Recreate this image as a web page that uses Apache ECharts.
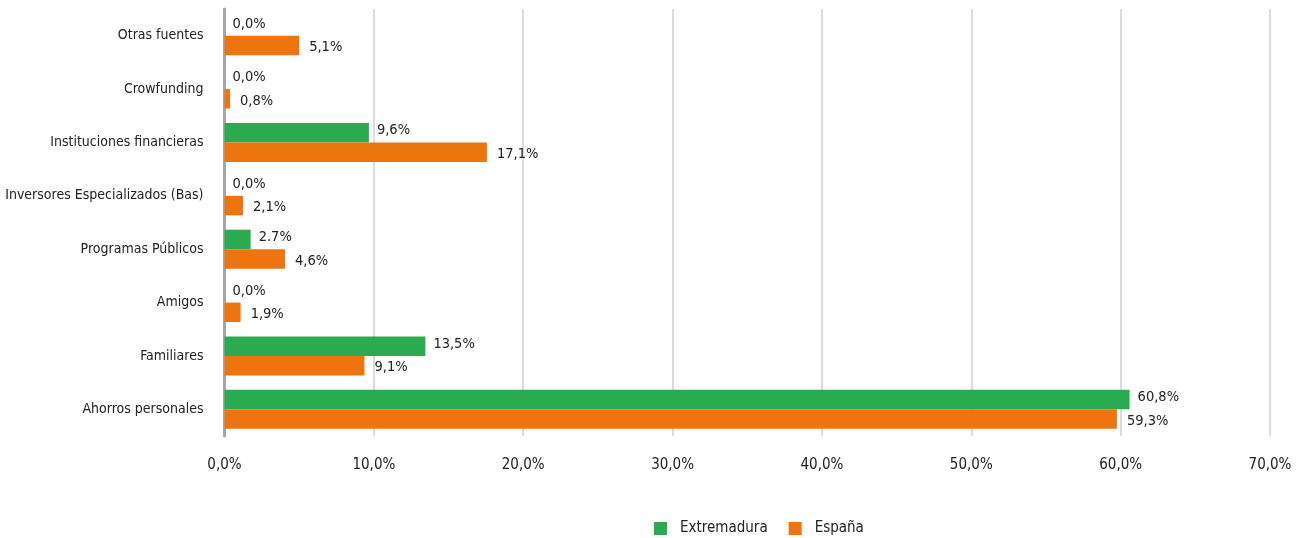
<!DOCTYPE html>
<html><head><meta charset="utf-8">
<script src="https://cdn.jsdelivr.net/npm/echarts@6/dist/echarts.min.js"></script>
<style>html,body{margin:0;padding:0;background:#fff}#c{width:1309px;height:538px}</style>
</head><body><div id="c"></div>
<script>
const categories = ['Ahorros personales','Familiares','Amigos','Programas Públicos','Inversores Especializados (Bas)','Instituciones financieras','Crowfunding','Otras fuentes'];
const extremaduraValues = [60.6, 13.45, 0, 1.75, 0, 9.67, 0, 0];
const extremaduraLabels = ['60,8%','13,5%','0,0%','2.7%','0,0%','9,6%','0,0%','0,0%'];
const espanaValues = [59.75, 9.37, 1.08, 4.05, 1.24, 17.57, 0.37, 5.0];
const espanaLabels = ['59,3%','9,1%','1,9%','4,6%','2,1%','17,1%','0,8%','5,1%'];
const xTicks = ['0,0%','10,0%','20,0%','30,0%','40,0%','50,0%','60,0%','70,0%'];

const FONT = "'DejaVu Sans Condensed','Liberation Sans Narrow',sans-serif";
const chart = echarts.init(document.getElementById('c'));
chart.setOption({
  animation: false,
  textStyle: { fontFamily: FONT },
  grid: { left: 224.5, right: 39, top: 9, bottom: 102, containLabel: false, outerBoundsMode: 'none' },
  legend: {
    top: 516, left: 649, itemWidth: 13, itemHeight: 13, itemGap: 21,
    icon: 'rect',
    textStyle: { fontFamily: FONT, fontSize: 15, color: '#222', padding: [0, 0, 0, 8] },
    data: ['Extremadura', 'España']
  },
  xAxis: {
    type: 'value', min: 0, max: 70, interval: 10,
    axisLine: { show: false }, axisTick: { show: false },
    splitLine: { lineStyle: { color: '#d0d0d0', width: 1.5 } },
    axisLabel: { margin: 22, fontSize: 15, color: '#222', fontFamily: FONT,
      formatter: v => xTicks[Math.round(v / 10)] }
  },
  yAxis: {
    type: 'category', data: categories,
    axisLine: { show: true, lineStyle: { color: '#a6a6a6', width: 3 } },
    axisTick: { show: false },
    axisLabel: { margin: 21, fontSize: 14, color: '#222', fontFamily: FONT }
  },
  series: [
    {
      name: 'Extremadura', type: 'bar', data: extremaduraValues,
      barCategoryGap: '27%', barGap: '0%',
      itemStyle: { color: '#2aab52' },
      label: { show: true, position: 'right', distance: 8, offset: [0, -2],
        fontSize: 14.5, color: '#222', fontFamily: FONT,
        formatter: p => extremaduraLabels[p.dataIndex] }
    },
    {
      name: 'España', type: 'bar', data: espanaValues,
      barCategoryGap: '27%', barGap: '0%',
      itemStyle: { color: '#ee7410' },
      label: { show: true, position: 'right', distance: 10, offset: [0, 2],
        fontSize: 14.5, color: '#222', fontFamily: FONT,
        formatter: p => espanaLabels[p.dataIndex] }
    }
  ]
});
</script></body></html>
